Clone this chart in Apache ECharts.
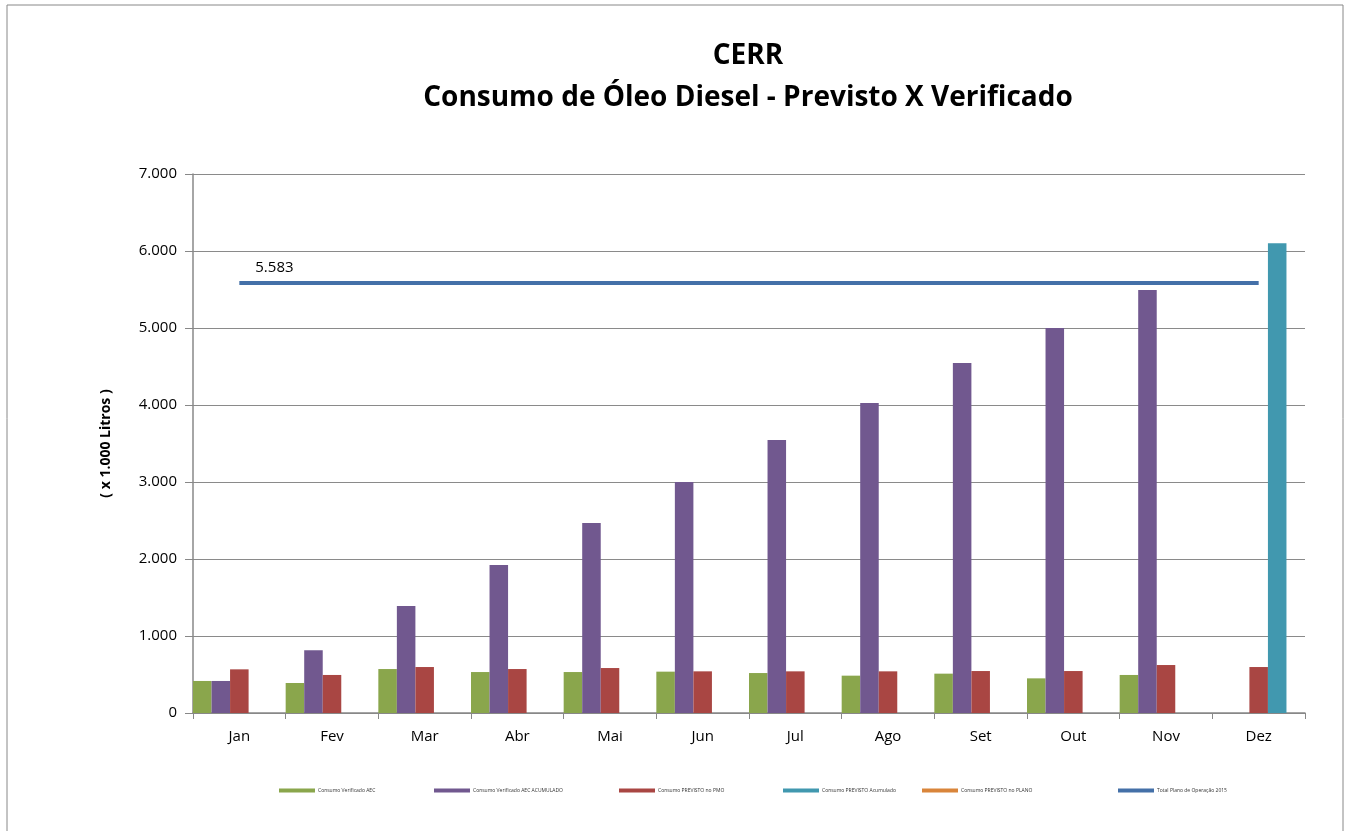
<!DOCTYPE html>
<html><head><meta charset="utf-8">
<script src="https://cdn.jsdelivr.net/npm/echarts@6/dist/echarts.min.js"></script>
<style>html,body{margin:0;padding:0;background:#fff}#c{width:1349px;height:831px}</style>
</head><body><div id="c"></div>
<script>
const categories = ['Jan','Fev','Mar','Abr','Mai','Jun','Jul','Ago','Set','Out','Nov','Dez'];
const verificado = [416,390,571,532,532,537,519,485,511,450,494,null];
const acumulado = [416,814,1390,1922,2468,3000,3545,4026,4545,5000,5494,null];
const previstoPmo = [567,494,597,571,584,541,541,541,545,545,623,597];
const previstoAcum = [null,null,null,null,null,null,null,null,null,null,null,6100];
const previstoPlano = [null,null,null,null,null,null,null,null,null,null,null,null];
const totalPlano = [5583,5583,5583,5583,5583,5583,5583,5583,5583,5583,5583,5583];
const names = ['Consumo Verificado AEC','Consumo Verificado AEC ACUMULADO','Consumo PREVISTO no PMO','Consumo PREVISTO Acumulado','Consumo PREVISTO no PLANO','Total Plano de Operação 2015'];
const colors = ['#8AA64C','#71588F','#A94643','#4198AF','#D9853B','#4470A8'];
const legendX = [274,429,614,778,917,1113];

const fmt = v => String(v).replace(/\B(?=(\d{3})+(?!\d))/g,'.');
const chart = echarts.init(document.getElementById('c'));
const barData = [verificado, acumulado, previstoPmo, previstoAcum, previstoPlano];
const series = barData.map((d,i)=>({
  name: names[i], type:'bar', data:d, barGap:'0%', barCategoryGap:'0%',
  itemStyle:{color:colors[i]}
}));
series.push({
  name: names[5], type:'line',
  data: totalPlano.map((v,i)=> i===0 ? {value:v, label:{show:true}} : v),
  symbol:'circle', symbolSize:0.1, showSymbol:true,
  lineStyle:{color:colors[5], width:4}, itemStyle:{color:colors[5]},
  label:{show:false, formatter:p=>fmt(p.value), position:[16,-23], fontSize:15, color:'#000', fontFamily:'Open Sans'},
  labelLayout:{hideOverlap:false},
  z:5
});
chart.setOption({
  animation:false,
  textStyle:{fontFamily:'Open Sans'},
  title:{text:'CERR\nConsumo de Óleo Diesel - Previsto X Verificado', left:743, textAlign:'center', top:30,
    textStyle:{fontSize:28, fontWeight:'bold', color:'#000', lineHeight:42, fontFamily:'Open Sans'}},
  legend: names.map((n,i)=>({data:[n], left:legendX[i], top:783, itemWidth:36, itemHeight:4, icon:'rect', itemGap:4,
    textStyle:{fontSize:5, color:'#333', padding:[0,0,0,-2]}, selectedMode:false})),
  grid:{left:193, right:44, top:174, bottom:118},
  xAxis:{type:'category', data:categories, boundaryGap:true,
    axisLine:{lineStyle:{color:'#888', width:1.5}},
    axisTick:{show:true, length:6, lineStyle:{color:'#888'}},
    axisLabel:{fontSize:15, color:'#000', margin:16}},
  yAxis:{type:'value', min:0, max:7000, interval:1000,
    name:'( x 1.000 Litros )', nameLocation:'middle', nameGap:80, nameRotate:90,
    nameTextStyle:{fontSize:14, fontWeight:'bold', color:'#000'},
    axisLine:{show:true, lineStyle:{color:'#888', width:1.5}},
    axisTick:{show:true, length:8, lineStyle:{color:'#888'}},
    splitLine:{lineStyle:{color:'#8a8a8a', width:1}},
    axisLabel:{formatter:v=>fmt(v), fontSize:15, color:'#000', margin:16}},
  graphic:[{type:'rect', shape:{x:7,y:5,width:1336,height:840}, style:{fill:null, stroke:'#888', lineWidth:1}, silent:true}],
  series
});
</script></body></html>
